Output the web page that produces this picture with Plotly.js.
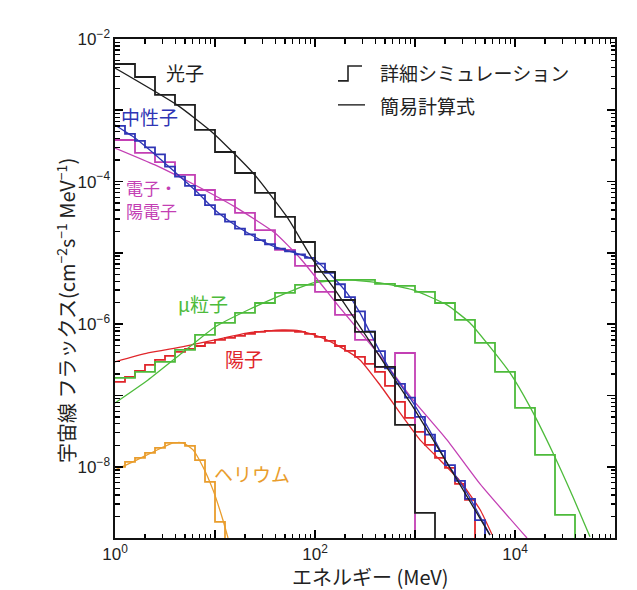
<!DOCTYPE html>
<html><head><meta charset="utf-8">
<script src="https://cdn.plot.ly/plotly-3.0.1.min.js"></script>
<style>html,body{margin:0;padding:0;background:#fff;}</style>
</head><body><div id="chart" style="width:637px;height:590px;"></div>
<script>
// ---- bin edges (MeV) ----
const edgesCoarse = [1, 1.585, 2.512, 3.981, 6.310, 10, 15.85, 25.12, 39.81, 63.10, 100, 158.5, 251.2, 398.1, 631.0, 1000, 1585, 2512, 3981, 6310, 10000, 15850, 25120, 39810];
const edgesFine = [1, 1.259, 1.585, 1.995, 2.512, 3.162, 3.981, 5.012, 6.310, 7.943, 10, 12.59, 15.85, 19.95, 25.12, 31.62, 39.81, 50.12, 63.10, 79.43, 100, 125.9, 158.5, 199.5, 251.2, 316.2, 398.1, 501.2, 631.0, 794.3, 1000, 1259, 1585, 1995, 2512, 3162, 3981, 5012];

// ---- detailed simulation (histograms), flux per bin ----
const photonSim = [4.46e-3, 2.93e-3, 1.64e-3, 1.19e-3, 5.30e-4, 2.60e-4, 1.32e-4, 6.92e-5, 3.19e-5, 1.42e-5, 5.40e-6, 2.18e-6, 7.78e-7, 2.51e-7, 3.86e-8, 2.25e-9];
const neutronSim = [6.03e-4, 4.68e-4, 3.72e-4, 3.02e-4, 2.40e-4, 1.62e-4, 1.17e-4, 8.71e-5, 6.46e-5, 4.68e-5, 3.47e-5, 2.75e-5, 2.19e-5, 1.82e-5, 1.51e-5, 1.32e-5, 1.15e-5, 1.05e-5, 9.55e-6, 8.51e-6, 7.08e-6, 5.25e-6, 3.63e-6, 2.40e-6, 1.51e-6, 7.94e-7, 4.17e-7, 2.40e-7, 1.45e-7, 9.33e-8, 5.01e-8, 2.82e-8, 1.66e-8, 1.05e-8, 6.31e-9, 3.55e-9, 1.78e-9];
const electronSim = [3.83e-4, 2.52e-4, 1.88e-4, 1.24e-4, 7.62e-5, 5.52e-5, 3.63e-5, 2.09e-5, 1.10e-5, 6.55e-6, 2.83e-6, 1.35e-6, 6.0e-7, 2.51e-7, 3.94e-7];
const muonSim = [1.76e-7, 2.14e-7, 2.95e-7, 4.35e-7, 7.06e-7, 1.04e-6, 1.44e-6, 1.98e-6, 2.74e-6, 3.55e-6, 4.04e-6, 4.17e-6, 4.17e-6, 3.66e-6, 3.44e-6, 2.83e-6, 1.98e-6, 1.15e-6, 5.45e-7, 2.14e-7, 6.68e-8, 1.47e-8, 2.11e-9];
const protonSim = [1.55e-7, 1.82e-7, 2.21e-7, 2.68e-7, 3.15e-7, 3.58e-7, 4.07e-7, 4.49e-7, 4.94e-7, 5.45e-7, 6.0e-7, 6.40e-7, 6.84e-7, 7.29e-7, 7.78e-7, 8.04e-7, 8.04e-7, 8.04e-7, 7.78e-7, 7.29e-7, 6.61e-7, 5.81e-7, 4.94e-7, 4.21e-7, 3.47e-7, 2.77e-7, 2.14e-7, 1.36e-7, 8.11e-8, 4.83e-8, 3.08e-8, 2.02e-8, 1.33e-8, 9.62e-9, 5.74e-9, 3.42e-9];
const heliumSim = [9.93e-9, 1.17e-8, 1.33e-8, 1.56e-8, 1.84e-8, 2.16e-8, 2.16e-8, 1.96e-8, 1.24e-8, 6.12e-9, 1.68e-9];

// ---- simple formula (smooth curves) ----
const photonE = [1, 4.17, 9.55, 24.0, 52.5, 95.5, 151, 447, 661, 955, 2090, 5620];
const photonF = [3.92e-3, 1.19e-3, 4.81e-4, 1.32e-4, 3.19e-5, 7.94e-6, 3.33e-6, 3.47e-7, 1.50e-7, 6.9e-8, 1.13e-8, 1.10e-9];
const neutronE = [1, 1.585, 2.512, 3.981, 6.31, 10, 15.85, 25.12, 39.81, 63.1, 100, 151, 209, 282, 380, 562, 891, 1413, 2090, 3311, 5623];
const neutronF = [6.22e-4, 4.08e-4, 2.40e-4, 1.36e-4, 7.62e-5, 4.0e-5, 2.46e-5, 1.67e-5, 1.21e-5, 9.98e-6, 7.94e-6, 4.59e-6, 2.74e-6, 1.44e-6, 6.31e-7, 2.28e-7, 9.23e-8, 3.16e-8, 1.13e-8, 4.30e-9, 1.10e-9];
const electronE = [1, 2.512, 6.31, 15.85, 39.81, 70.8, 178, 447, 955, 2089, 4467, 13183];
const electronF = [2.96e-4, 1.71e-4, 8.95e-5, 4.41e-5, 1.90e-5, 8.47e-6, 1.69e-6, 3.58e-7, 8.65e-8, 2.38e-8, 5.74e-9, 1.0e-9];
const muonE = [1, 2.14, 4.68, 10, 21.4, 46.8, 95.5, 209, 447, 955, 2089, 3548, 5623, 8913, 14125, 23988, 38019, 56234];
const muonF = [7.85e-8, 1.65e-7, 3.94e-7, 9.14e-7, 1.58e-6, 2.57e-6, 3.78e-6, 4.17e-6, 3.78e-6, 3.02e-6, 1.86e-6, 1.04e-6, 4.8e-7, 2.07e-7, 6.90e-8, 1.56e-8, 3.77e-9, 1.04e-9];
const protonE = [1, 2.14, 4.68, 10, 21.4, 46.8, 70.8, 112, 178, 282, 447, 708, 1122, 1778, 2818, 4467, 5888];
const protonF = [2.95e-7, 3.94e-7, 4.79e-7, 6.0e-7, 7.53e-7, 8.30e-7, 8.04e-7, 6.61e-7, 4.79e-7, 3.15e-7, 1.40e-7, 5.69e-8, 2.38e-8, 1.24e-8, 6.31e-9, 2.51e-9, 1.12e-9];
const heliumE = [1, 1.51, 2.40, 3.80, 4.79, 6.03, 7.59, 9.55, 12.0, 13.5];
const heliumF = [9.02e-9, 1.17e-8, 1.61e-8, 2.16e-8, 2.16e-8, 1.72e-8, 9.93e-9, 4.73e-9, 1.79e-9, 1.0e-9];

// ---- labels ----
const xTickVals = [1, 10, 100, 1000, 10000, 100000];
const xTickText = ['10<sup>0</sup>', '', '10<sup>2</sup>', '', '10<sup>4</sup>', ''];
const yTickVals = [1e-2, 1e-3, 1e-4, 1e-5, 1e-6, 1e-7, 1e-8, 1e-9];
const yTickText = ['10<sup>−2</sup>', '', '10<sup>−4</sup>', '', '10<sup>−6</sup>', '', '10<sup>−8</sup>', ''];
const seriesNames = ['光子', '中性子', '電子・', '陽電子', 'μ粒子', '陽子', 'ヘリウム'];
const legendTexts = ['詳細シミュレーション', '簡易計算式'];
const xTitle = 'エネルギー (MeV)';
const yTitle = '宇宙線 フラックス(cm<sup>−2</sup>s<sup>−1</sup> MeV<sup>−1</sup>)';

// minor tick positions (2..9 within each decade)
function minorTicks(e0, e1){ const v=[]; for(let e=e0;e<e1;e++){ for(let m=2;m<10;m++){ v.push(m*Math.pow(10,e)); } } return v; }
const xMinor = minorTicks(0, 5);
const yMinor = minorTicks(-9, -2);

const C = {black:'#1e1e1e', blue:'#2f35b5', magenta:'#c33fb4', green:'#4dbb3b', red:'#e0262b', orange:'#e99d2d'};
const FLOOR = 1e-13;

function stepTrace(edges, vals, color){
  const n = vals.length;
  const x = edges.slice(0, n + 1).concat([edges[n]]);
  const y = vals.concat([vals[n - 1], FLOOR]);
  return {x, y, type:'scatter', mode:'lines', line:{shape:'hv', color, width:1.8}, hoverinfo:'skip'};
}
function curveTrace(x, y, color){
  return {x, y, type:'scatter', mode:'lines', line:{shape:'spline', smoothing:0.5, color, width:1.3}, hoverinfo:'skip'};
}

const data = [
  curveTrace(heliumE, heliumF, C.orange), stepTrace(edgesFine, heliumSim, C.orange),
  curveTrace(protonE, protonF, C.red), stepTrace(edgesFine, protonSim, C.red),
  curveTrace(muonE, muonF, C.green), stepTrace(edgesCoarse, muonSim, C.green),
  curveTrace(electronE, electronF, C.magenta), stepTrace(edgesCoarse, electronSim, C.magenta),
  curveTrace(neutronE, neutronF, C.blue), stepTrace(edgesFine, neutronSim, C.blue),
  curveTrace(photonE, photonF, C.black), stepTrace(edgesCoarse, photonSim, C.black)
];

const cjk = "'Noto Sans CJK JP', 'Noto Sans', sans-serif";
function lab(text, x, y, color, anchor, size){
  return {text, x, y, xref:'paper', yref:'paper', xanchor: anchor || 'center', yanchor:'middle', align:'left', showarrow:false, font:{family:cjk, size: size || 19, color}};
}
const annotations = [
  lab(seriesNames[0], 0.14, 0.932, C.black),
  lab(seriesNames[1], 0.068, 0.844, C.blue),
  lab(seriesNames[2], 0.018, 0.702, C.magenta, 'left', 17),
  lab(seriesNames[3], 0.018, 0.657, C.magenta, 'left', 17),
  lab(seriesNames[4], 0.176, 0.469, C.green),
  lab(seriesNames[5], 0.258, 0.359, C.red),
  lab(seriesNames[6], 0.274, 0.130, C.orange),
  lab(legendTexts[0], 0.526, 0.932, '#222', 'left'),
  lab(legendTexts[1], 0.526, 0.866, '#222', 'left'),
  {text:yTitle, x:-0.098, y:0.455, xref:'paper', yref:'paper', xanchor:'center', yanchor:'middle', textangle:-90, showarrow:false, font:{family:cjk, size:20, color:'#222'}},
  {text:xTitle, x:0.51, y:-0.077, xref:'paper', yref:'paper', xanchor:'center', yanchor:'middle', showarrow:false, font:{family:cjk, size:20, color:'#222'}}
];
const shapes = [
  {type:'path', xref:'paper', yref:'paper', path:'M0.446,0.916 L0.466,0.916 L0.466,0.946 L0.494,0.946', line:{color:'#222', width:1.6}},
  {type:'line', xref:'paper', yref:'paper', x0:0.446, x1:0.50, y0:0.868, y1:0.868, line:{color:'#222', width:1.4}}
];

const axisCommon = {
  type:'log', tickmode:'array', ticks:'inside', ticklen:8, tickwidth:1.6, tickcolor:'#000',
  showline:true, linecolor:'#111', linewidth:1.6, mirror:'allticks', showgrid:false, zeroline:false,
  automargin:false, tickfont:{family:"'Liberation Sans', Arial, sans-serif", size:17, color:'#222'}
};
const minorCommon = {tickmode:'array', ticks:'inside', ticklen:4.5, tickcolor:'#000', tickwidth:1.3, showgrid:false};
const layout = {
  width:637, height:590,
  margin:{l:115, r:22, t:39, b:52},
  paper_bgcolor:'#ffffff', plot_bgcolor:'#ffffff',
  showlegend:false,
  xaxis: Object.assign({}, axisCommon, {range:[0,5], tickvals:xTickVals, ticktext:xTickText,
    minor:Object.assign({}, minorCommon, {tickvals:xMinor})}),
  yaxis: Object.assign({}, axisCommon, {range:[-9,-2], tickvals:yTickVals, ticktext:yTickText,
    minor:Object.assign({}, minorCommon, {tickvals:yMinor})}),
  annotations, shapes
};
Plotly.newPlot('chart', data, layout, {staticPlot:true, displayModeBar:false});
</script>
</body></html>
